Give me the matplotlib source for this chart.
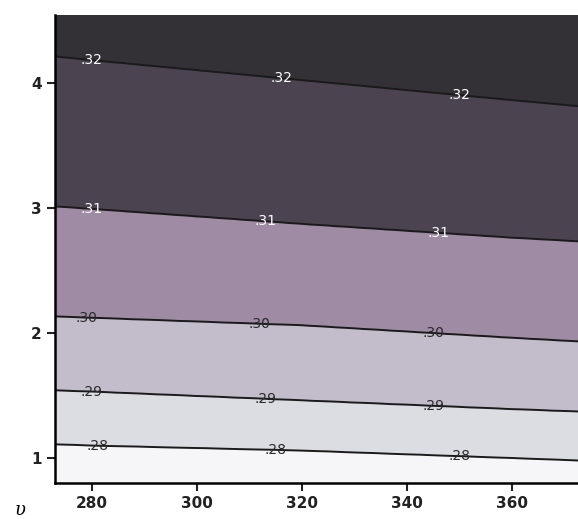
import numpy as np
import matplotlib
matplotlib.use("Agg")
from matplotlib import pyplot as plt

# contour levels and where each one crosses the columns
levels = [0.28, 0.29, 0.30, 0.31, 0.32]
x_cols = [273, 280, 320, 360, 373]
y_at = {
    0.28: [1.11, 1.10, 1.06, 1.00, 0.98],
    0.29: [1.54, 1.53, 1.46, 1.39, 1.37],
    0.30: [2.13, 2.12, 2.06, 1.96, 1.93],
    0.31: [3.01, 2.99, 2.87, 2.76, 2.73],
    0.32: [4.21, 4.18, 4.02, 3.86, 3.81],
}
fill_colors = ["#f6f5f7", "#dcdce3", "#c3bccb", "#9f8ba4", "#4b4450", "#333135"]
label_pos = {
    0.32: [(280, 4.17), (316, 4.01), (350, 3.90)],
    0.31: [(280, 2.99), (313, 2.88), (346, 2.78)],
    0.30: [(279, 2.12), (312, 2.07), (345, 1.99)],
    0.29: [(280, 1.53), (313, 1.47), (345, 1.40)],
    0.28: [(281, 1.10), (315, 1.06), (350, 1.01)],
}

xs = np.linspace(273, 373, 120)
ys = np.linspace(0.7, 4.6, 300)
X, Y = np.meshgrid(xs, ys)
Z = np.zeros_like(X)
for i, xv in enumerate(xs):
    yp = [0.5] + [np.interp(xv, x_cols, y_at[l]) for l in levels] + [5.0]
    zp = [0.27] + levels + [0.33]
    Z[:, i] = np.interp(ys, yp, zp)

fig = plt.figure(figsize=(5.78, 5.19), dpi=100)
ax = fig.add_axes([55/578, 36/519, 523/578, 468/519])
ax.contourf(X, Y, Z, levels=[0.27] + levels + [0.33], colors=fill_colors)
cs = ax.contour(X, Y, Z, levels=levels, colors="#1a1a1a", linewidths=1.4)

ax.set_xlim(273, 372.6)
ax.set_ylim(0.8, 4.54)

fmt = lambda v: ("%.2f" % v)[1:]
manual = [p for l in levels for p in label_pos[l]]
txt = ax.clabel(cs, manual=manual, fmt=fmt, fontsize=10, inline=False)
for t in txt:
    t.set_rotation(0)
    t.set_color("white" if float("0" + t.get_text()) >= 0.305 else "#2a2a2a")

ax.set_xticks([280, 300, 320, 340, 360])
ax.set_yticks([1, 2, 3, 4])
ax.tick_params(direction="out", length=6, width=1.5, labelsize=11, colors="#222222")
for lab in ax.get_xticklabels() + ax.get_yticklabels():
    lab.set_fontweight("bold")
for s in ["left", "bottom"]:
    ax.spines[s].set_linewidth(1.8)
for s in ["top", "right"]:
    ax.spines[s].set_visible(False)

fig.text(15/578, 1 - 515/519, "υ", fontsize=13, style="italic", family="DejaVu Serif", va="baseline")

fig.savefig("out.png", dpi=100)
